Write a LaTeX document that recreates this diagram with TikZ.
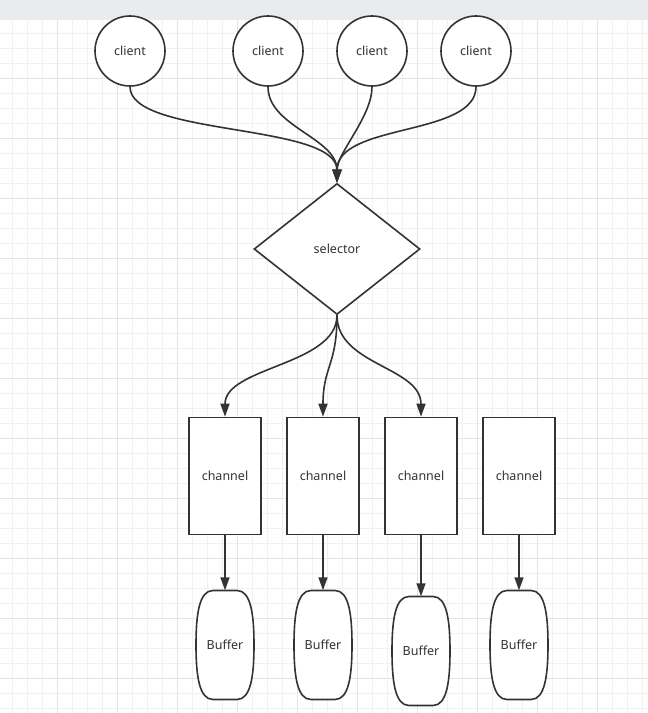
\documentclass[tikz,border=0pt]{standalone}
\usepackage{fontspec}
\setmainfont{Noto Sans}
\usetikzlibrary{arrows.meta,shapes}

\definecolor{inkcol}{HTML}{333333}
\definecolor{barcol}{HTML}{E9EBEE}
\definecolor{minorcol}{HTML}{F1F1F1}
\definecolor{majorcol}{HTML}{E4E4E4}

\begin{document}
\begin{tikzpicture}[x=1pt, y=1pt, >={Triangle[length=13pt,width=9pt]},
  every node/.style={font=\fontsize{12.5}{14}\selectfont, text=inkcol},
  client/.style={draw=inkcol, line width=1.6pt, ellipse, fill=white, inner sep=0pt,
    minimum width=70pt, minimum height=70pt},
  selector/.style={draw=inkcol, line width=1.6pt, diamond, fill=white, inner sep=0pt,
    minimum width=166pt, minimum height=131pt},
  channel/.style={draw=inkcol, line width=1.6pt, rectangle, fill=white, inner sep=0pt,
    minimum width=72pt, minimum height=117pt},
  buffer/.style={rectangle, inner sep=0pt, minimum width=58pt, minimum height=109pt},
  barrel/.style={draw=inkcol, line width=1.6pt, fill=white},
  link/.style={draw=inkcol, line width=1.6pt}]

  % Canvas and grid
  \useasboundingbox (0,0) rectangle (648,713);
  \fill[white] (0,0) rectangle (648,713);
  \fill[barcol] (0,693) rectangle (648,713);
  \begin{scope}
    \clip (0,0) rectangle (648,693);
    \draw[minorcol, line width=1pt, shift={(12.7,4)}] (-15,-15) grid[step=15pt] (660,705);
    \draw[majorcol, line width=1pt, shift={(57.7,34)}] (-60,-60) grid[step=60pt] (660,720);
  \end{scope}

  % Clients
  \node[client] (c1) at (130,662) {client};
  \node[client] (c2) at (268,662) {client};
  \node[client] (c3) at (372,662) {client};
  \node[client] (c4) at (476,662) {client};

  % Selector
  \node[selector] (sel) at (337,464) {selector};

  % Channels
  \foreach \i/\x in {1/225,2/323,3/421,4/519}
    \node[channel] (ch\i) at (\x,237) {channel};

  % Buffers (barrel outline, then the node)
  \foreach \i/\x/\y in {1/225/68,2/323/68,3/421/62,4/519/68} {
    \path[barrel, shift={(\x,\y)}] (-12,54.5) -- (12,54.5)
      .. controls (26,54.5) and (29,30) .. (29,0)
      .. controls (29,-30) and (26,-54.5) .. (12,-54.5) -- (-12,-54.5)
      .. controls (-26,-54.5) and (-29,-30) .. (-29,0)
      .. controls (-29,30) and (-26,54.5) .. cycle;
    \node[buffer] (b\i) at (\x,\y) {Buffer};
  }

  % Clients -> selector
  \foreach \i/\a/\b in {1/50/60,2/40/45,3/30/30,4/50/60}
    \draw[link,->] (c\i.south) .. controls +(0,-\a) and +(0,\b) .. (sel.north);

  % Selector -> channels
  \foreach \i in {1,2,3}
    \draw[link,->] (sel.south) .. controls +(0,-50) and +(0,50) .. (ch\i.north);

  % Channels -> buffers
  \foreach \i in {1,...,4}
    \draw[link,->] (ch\i.south) -- (b\i.north);
\end{tikzpicture}
\end{document}
